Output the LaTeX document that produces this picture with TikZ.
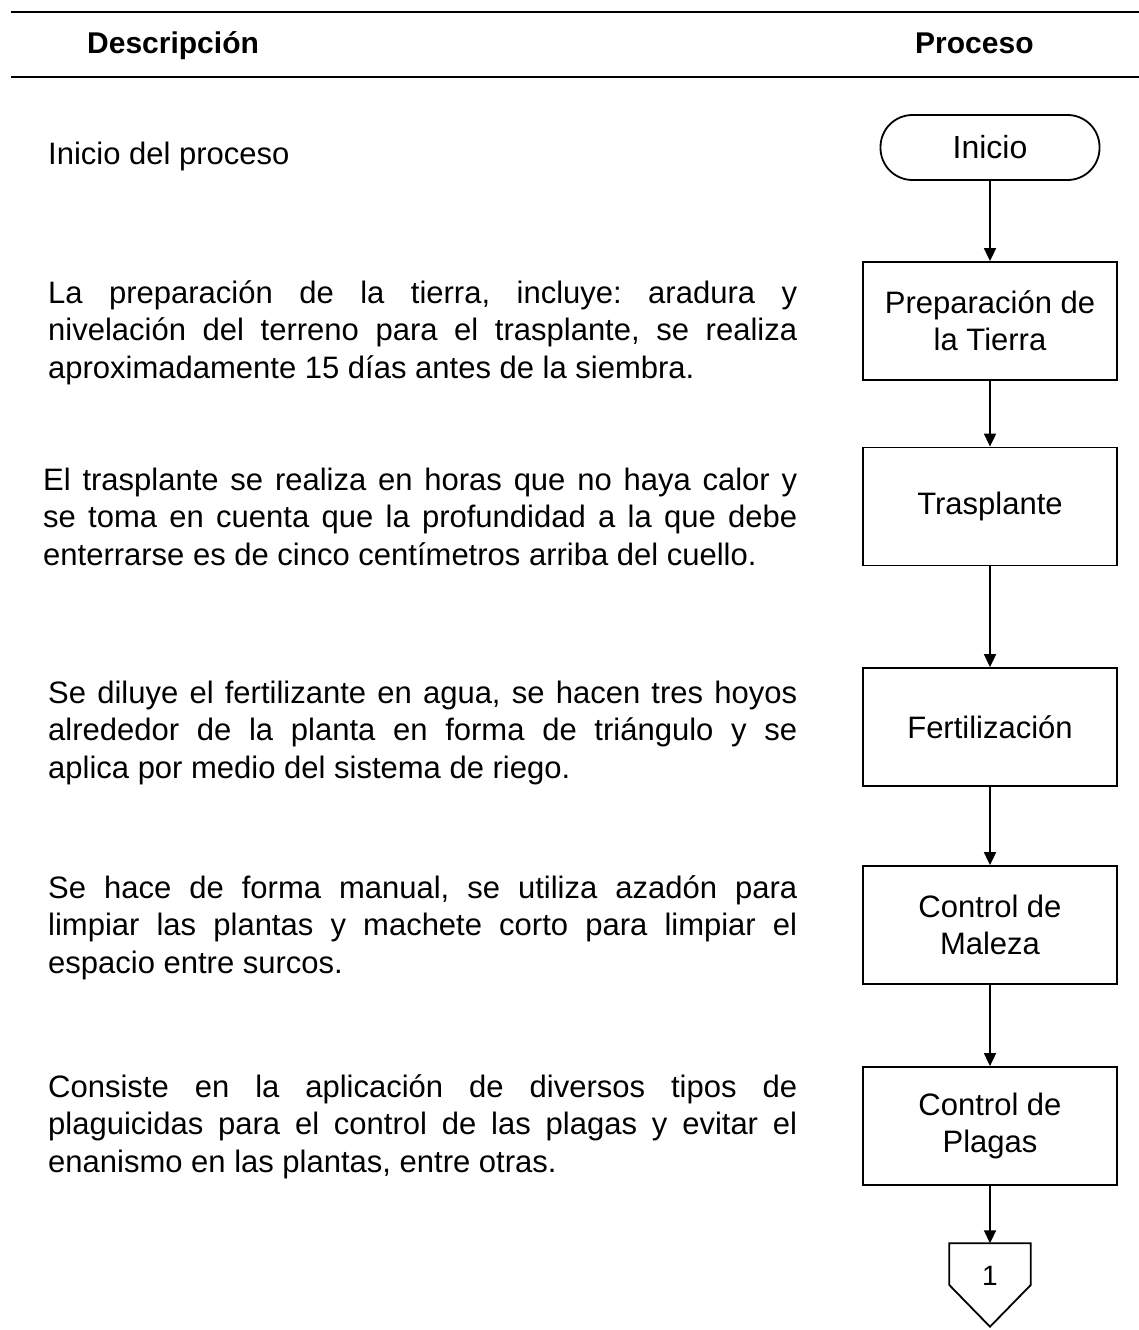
\documentclass[tikz,border=0pt]{standalone}
\usepackage{fontspec}
\setmainfont{Liberation Sans}
\usetikzlibrary{arrows.meta,calc}
\frenchspacing
\newcommand{\jl}[1]{\makebox[\linewidth][s]{#1}}
\newcommand{\desc}[2]{\parbox[t]{#1}{\frenchspacing\fontsize{31}{37.5}\selectfont #2}}
\begin{document}
\begin{tikzpicture}[x=1pt,y=-1pt,
  rule/.style={line width=2pt},
  hdr/.style={inner sep=0pt,anchor=base west,font=\fontsize{30}{36}\selectfont\bfseries},
  dtext/.style={inner sep=0pt,anchor=base west},
  stepbox/.style={draw,line width=1.8pt,minimum width=254pt,minimum height=118pt,inner sep=2pt,align=center,font=\fontsize{31}{37}\selectfont},
  termbox/.style={draw,line width=1.8pt,rounded corners=32pt,minimum width=219pt,minimum height=65pt,inner sep=0pt,font=\fontsize{32}{37}\selectfont},
  flow/.style={line width=1.8pt,-{Triangle[length=13pt,width=12pt]}}
]
\useasboundingbox (0,0) rectangle (1139,1330);
% header rules
\coordinate (r1a) at (11,12.5);
\coordinate (r1b) at (1139,12.5);
\coordinate (r2a) at (11,77);
\coordinate (r2b) at (1139,77);
\draw[rule] (r1a) -- (r1b);
\draw[rule] (r2a) -- (r2b);
\node[hdr] (hdesc) at (87,53) {Descripción};
\node[hdr] (hproc) at (915,53) {Proceso};

% descriptions
\node[dtext] (d0) at (48,164) {\fontsize{31}{37.5}\selectfont Inicio del proceso};
\node[dtext] (d1) at (48,303) {\desc{749pt}{%
\jl{La preparación de la tierra, incluye: aradura y}\\
\jl{nivelación del terreno para el trasplante, se realiza}\\
aproximadamente 15 días antes de la siembra.}};
\node[dtext] (d2) at (43,490) {\desc{754pt}{%
\jl{El trasplante se realiza en horas que no haya calor y}\\
\jl{se toma en cuenta que la profundidad a la que debe}\\
enterrarse es de cinco centímetros arriba del cuello.}};
\node[dtext] (d3) at (48,703) {\desc{749pt}{%
\jl{Se diluye el fertilizante en agua, se hacen tres hoyos}\\
\jl{alrededor de la planta en forma de triángulo y se}\\
aplica por medio del sistema de riego.}};
\node[dtext] (d4) at (48,898) {\desc{749pt}{%
\jl{Se hace de forma manual, se utiliza azadón para}\\
\jl{limpiar las plantas y machete corto para limpiar el}\\
espacio entre surcos.}};
\node[dtext] (d5) at (48,1097) {\desc{749pt}{%
\jl{Consiste en la aplicación de diversos tipos de}\\
\jl{plaguicidas para el control de las plagas y evitar el}\\
enanismo en las plantas, entre otras.}};

% process column
\node[termbox] (ini) at (990,147.5) {Inicio};
\node[stepbox] (prep) at (990,321) {Preparación de\\la Tierra};
\node[stepbox] (tras) at (990,506.5) {Trasplante};
\node[stepbox] (fert) at (990,727) {Fertilización};
\node[stepbox] (mal) at (990,925) {Control de\\Maleza};
\node[stepbox] (plag) at (990,1126) {Control de\\Plagas};
\node[minimum width=81pt,minimum height=83pt,inner sep=0pt] (conn) at (990,1285) {};
\draw[line width=1.8pt,line join=miter] (conn.north west) -- (conn.north east) -- (conn.east) -- (conn.south) -- (conn.west) -- cycle;
\node[inner sep=0pt,font=\fontsize{28}{30}\selectfont] (conlbl) at (990,1276) {1};

\draw[flow] (ini) -- (prep);
\draw[flow] (prep) -- (tras);
\draw[flow] (tras) -- (fert);
\draw[flow] (fert) -- (mal);
\draw[flow] (mal) -- (plag);
\draw[flow] (plag) -- (conn.north);
\end{tikzpicture}
\end{document}
